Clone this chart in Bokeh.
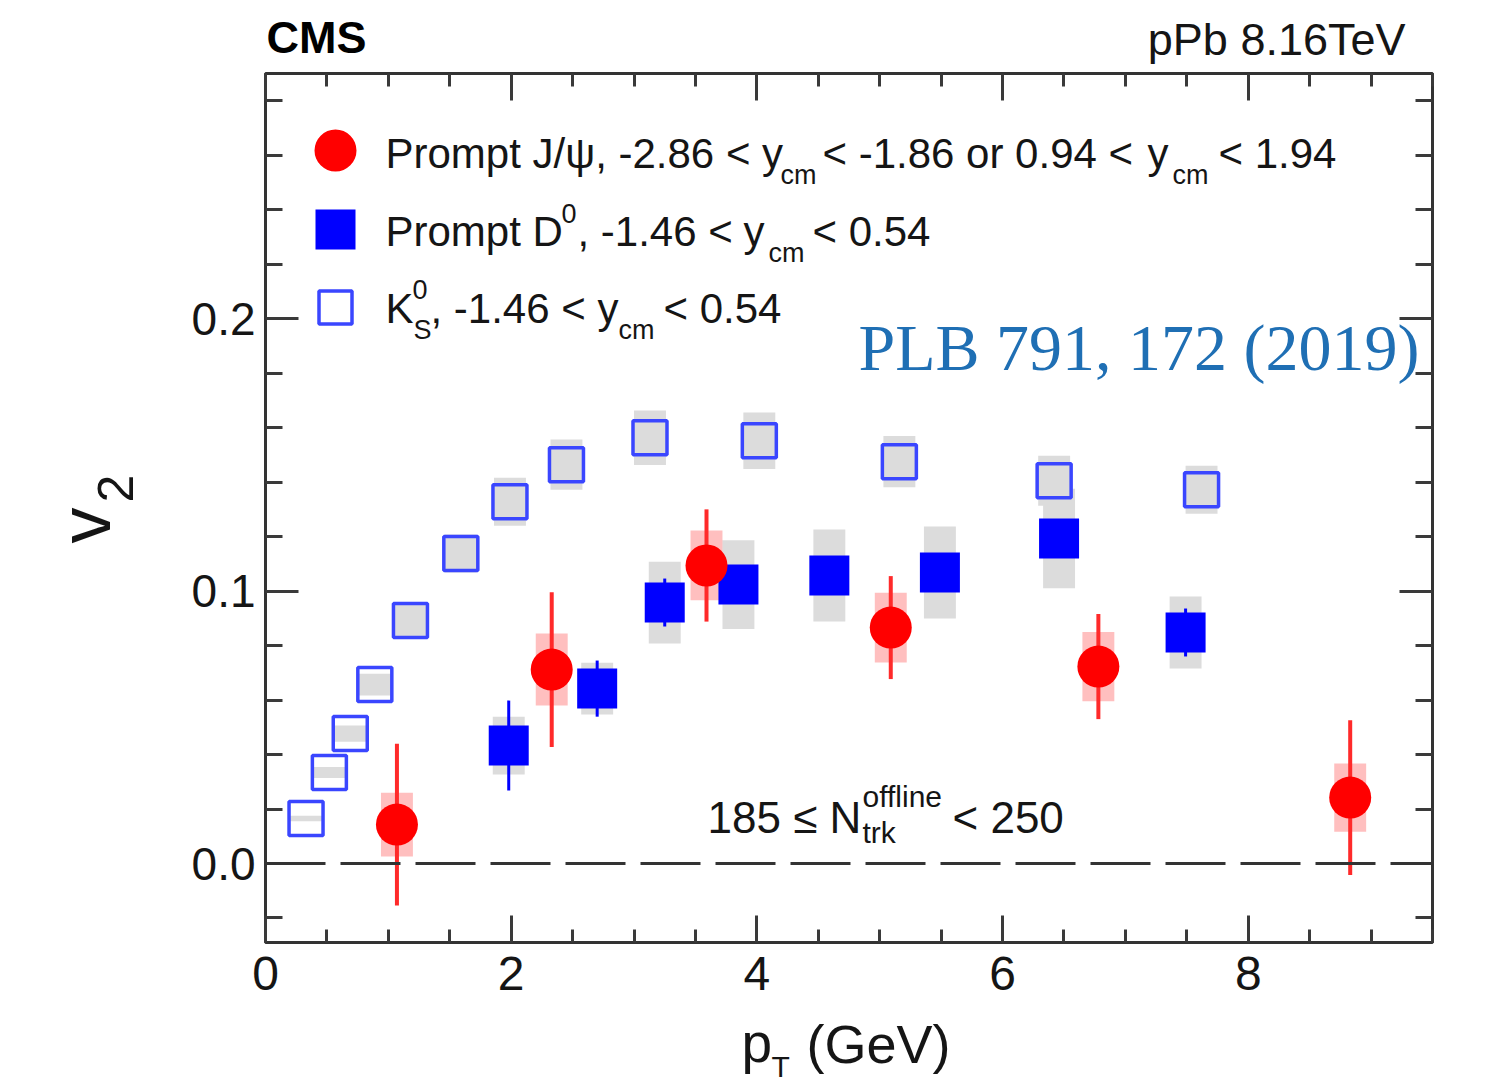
import numpy as np
from math import pi
from bokeh.plotting import figure
from bokeh.layouts import row, column
from bokeh.models import Range1d, LinearAxis, FixedTicker, NumeralTickFormatter, Span, Label
from bokeh.embed import file_html
from bokeh.resources import INLINE

# ---------------- data ----------------
kshort_pt = [0.33, 0.52, 0.69, 0.89, 1.18, 1.59, 1.99, 2.45, 3.13, 4.02, 5.16, 6.42, 7.62]
kshort_v2 = [0.0165, 0.0334, 0.0477, 0.0657, 0.0892, 0.1138, 0.1328, 0.1464, 0.1563, 0.1552, 0.1475, 0.1405, 0.1372]
kshort_syst = [0.001, 0.002, 0.003, 0.004, 0.006, 0.007, 0.0088, 0.0092, 0.0100, 0.0104, 0.0094, 0.0092, 0.0088]

d0_pt = [1.98, 2.70, 3.25, 3.85, 4.59, 5.49, 6.46, 7.49]
d0_v2 = [0.0433, 0.0642, 0.0958, 0.1024, 0.1057, 0.1068, 0.1193, 0.0848]
d0_stat = [0.0165, 0.0103, 0.0088, 0.006, 0.006, 0.006, 0.006, 0.0088]
d0_syst = [0.0106, 0.0095, 0.0150, 0.0163, 0.0169, 0.0169, 0.0183, 0.0132]

jpsi_pt = [1.07, 2.33, 3.59, 5.09, 6.78, 8.83]
jpsi_v2 = [0.0143, 0.0712, 0.1094, 0.0866, 0.0723, 0.0242]
jpsi_stat = [0.0297, 0.0284, 0.0206, 0.0189, 0.0193, 0.0284]
jpsi_syst = [0.0117, 0.0132, 0.0128, 0.0128, 0.0127, 0.0125]

x_major_ticks = [0, 2, 4, 6, 8]
x_minor_ticks = [0.5, 1, 1.5, 2.5, 3, 3.5, 4.5, 5, 5.5, 6.5, 7, 7.5, 8.5, 9, 9.5]
y_major_ticks = [0.0, 0.1, 0.2]
y_minor_ticks = [-0.02, 0.02, 0.04, 0.06, 0.08, 0.12, 0.14, 0.16, 0.18, 0.22, 0.24, 0.26, 0.28]

# ---------------- layout / style ----------------
W, H = 1485, 1083
FRAME_L, FRAME_R, FRAME_T, FRAME_B = 265, 1432, 73, 942
LEFT_W = 150            # strip holding the y title
TOP_H = 65              # strip holding CMS / pPb header
MAIN_TOP_BORDER = 8
MAIN_BOTTOM_BORDER = 70
MAIN_H = MAIN_TOP_BORDER + (FRAME_B - FRAME_T) + MAIN_BOTTOM_BORDER
BOTTOM_H = H - TOP_H - MAIN_H
X_MIN, X_MAX = 0.0, 9.5
Y_MIN, Y_MAX = -0.029, 0.29
FONT = "Liberation Sans"
TXT = "#151515"
AX = "#3a3a3a"
JPSI_COLOR = "#ff0000"
D0_COLOR = "#0000ff"
K0_COLOR = "#3a46ff"
SYST_GRAY = "#dcdcdc"
BOX_HW = 0.13
MID = 0.35   # distance baseline -> middle of the font box, in em


def px2x(px):
    return X_MIN + (px - FRAME_L) * (X_MAX - X_MIN) / (FRAME_R - FRAME_L)


def px2y(py):
    return Y_MIN + (FRAME_B - py) * (Y_MAX - Y_MIN) / (FRAME_B - FRAME_T)


p = figure(width=W - LEFT_W, height=MAIN_H, x_range=Range1d(X_MIN, X_MAX), y_range=Range1d(Y_MIN, Y_MAX),
           output_backend="svg", toolbar_location=None,
           min_border_left=FRAME_L - LEFT_W, min_border_right=W - FRAME_R,
           min_border_top=MAIN_TOP_BORDER, min_border_bottom=MAIN_BOTTOM_BORDER)
p.grid.visible = False
p.outline_line_color = "#333333"
p.outline_line_width = 3
p.background_fill_color = "white"
p.border_fill_color = "white"

bottom_ax = p.below[0]
left_ax = p.left[0]
top_ax = LinearAxis()
right_ax = LinearAxis()
p.add_layout(top_ax, "above")
p.add_layout(right_ax, "right")


def style_axis(ax, is_x, show_labels):
    if is_x:
        ax.ticker = FixedTicker(ticks=x_major_ticks, minor_ticks=x_minor_ticks)
        ax.major_tick_in, ax.minor_tick_in = 27, 13
        ax.major_label_standoff = 14
    else:
        ax.ticker = FixedTicker(ticks=y_major_ticks, minor_ticks=y_minor_ticks)
        ax.major_tick_in, ax.minor_tick_in = 33, 17
        ax.major_label_standoff = 10
        ax.formatter = NumeralTickFormatter(format="0.0")
    ax.major_tick_out = 0
    ax.minor_tick_out = 0
    ax.axis_line_color = None
    ax.major_tick_line_color = AX
    ax.minor_tick_line_color = AX
    ax.major_tick_line_width = 3
    ax.minor_tick_line_width = 3
    ax.major_label_text_font = FONT
    if show_labels:
        ax.major_label_text_color = TXT
        ax.major_label_text_font_size = "48px" if is_x else "46px"
    else:
        ax.major_label_text_color = None
        ax.major_label_text_font_size = "4px"
        ax.major_label_standoff = 0


style_axis(bottom_ax, True, True)
style_axis(left_ax, False, True)
style_axis(top_ax, True, False)
style_axis(right_ax, False, False)

# zero line
p.add_layout(Span(location=0, dimension="width", line_color="#333333", line_width=3, line_dash="60 15"))

# ---------------- data marks ----------------
kpt, kv, ks = np.array(kshort_pt), np.array(kshort_v2), np.array(kshort_syst)
dpt, dv, dst, dsy = np.array(d0_pt), np.array(d0_v2), np.array(d0_stat), np.array(d0_syst)
jpt, jv, jst, jsy = np.array(jpsi_pt), np.array(jpsi_v2), np.array(jpsi_stat), np.array(jpsi_syst)

p.quad(left=kpt - BOX_HW, right=kpt + BOX_HW, bottom=kv - ks, top=kv + ks,
       fill_color=SYST_GRAY, line_color=None)
p.quad(left=dpt - BOX_HW, right=dpt + BOX_HW, bottom=dv - dsy, top=dv + dsy,
       fill_color=SYST_GRAY, line_color=None)
p.quad(left=jpt - BOX_HW, right=jpt + BOX_HW, bottom=jv - jsy, top=jv + jsy,
       fill_color=JPSI_COLOR, fill_alpha=0.25, line_color=None)

p.scatter(kpt, kv, marker="square", size=34, fill_color=None, line_color=K0_COLOR, line_width=3.5)
p.segment(x0=dpt, y0=dv - dst, x1=dpt, y1=dv + dst, line_color=D0_COLOR, line_width=3)
p.scatter(dpt, dv, marker="square", size=40, fill_color=D0_COLOR, line_color=None)
p.segment(x0=jpt, y0=jv - jst, x1=jpt, y1=jv + jst, line_color="#ff2a2a", line_width=4)
p.scatter(jpt, jv, marker="circle", size=42, fill_color=JPSI_COLOR, line_color=None)

# ---------------- legend keys ----------------
p.scatter([px2x(335)], [px2y(150)], marker="circle", size=42, fill_color=JPSI_COLOR, line_color=None)
p.scatter([px2x(335)], [px2y(229)], marker="square", size=40, fill_color=D0_COLOR, line_color=None)
p.scatter([px2x(335)], [px2y(307)], marker="square", size=33, fill_color=None,
          line_color=K0_COLOR, line_width=3.5)


def strip(w, h, xr, yr):
    f = figure(width=w, height=h, x_range=Range1d(*xr), y_range=Range1d(*yr),
               x_axis_type=None, y_axis_type=None, output_backend="svg", toolbar_location=None,
               min_border=0)
    f.outline_line_color = None
    f.background_fill_color = "white"
    f.border_fill_color = "white"
    f.grid.visible = False
    return f


# strips use window-pixel coordinates (y grows downward); the column aligns
# the frames of the top/bottom strips with the frame of the main plot.
left_fig = strip(LEFT_W, H, (0, LEFT_W), (H, 0))
top_fig = strip(W - LEFT_W, TOP_H, (FRAME_L, FRAME_R), (TOP_H, 0))
bottom_fig = strip(W - LEFT_W, BOTTOM_H, (FRAME_L, FRAME_R), (H, H - BOTTOM_H))


def add_text(fig, txt, px, py, size, align="left", bold=False, font=FONT, color=TXT, rotated=False):
    """px, py: start of the text's baseline, in window pixels."""
    if rotated:
        ax_, ay_ = px - MID * size, py
    else:
        ax_, ay_ = px, py - MID * size
    if fig is p:
        ax_, ay_ = px2x(ax_), px2y(ay_)
    fig.add_layout(Label(x=ax_, y=ay_, text=txt, text_font=font,
                         text_font_size=f"{size}px", text_color=color, text_align=align,
                         text_baseline="middle", angle=pi / 2 if rotated else 0.0,
                         text_font_style="bold" if bold else "normal"))


# legend texts
LS, SS = 42, 27
add_text(p, "Prompt J/ψ, -2.86 < y", 385, 168, LS)
add_text(p, "cm", 780, 184, SS)
add_text(p, "< -1.86 or 0.94 <", 822, 168, LS)
add_text(p, "y", 1147, 168, LS)
add_text(p, "cm", 1172, 184, SS)
add_text(p, "< 1.94", 1218, 168, LS)

add_text(p, "Prompt D", 385, 246, LS)
add_text(p, "0", 561, 222, SS)
add_text(p, ", -1.46 <", 577, 246, LS)
add_text(p, "y", 743, 246, LS)
add_text(p, "cm", 768, 262, SS)
add_text(p, "< 0.54", 812, 246, LS)

add_text(p, "K", 385, 323, LS)
add_text(p, "0", 412, 298, SS)
add_text(p, "S", 413, 339, SS)
add_text(p, ", -1.46 < y", 430, 323, LS)
add_text(p, "cm", 618, 339, SS)
add_text(p, "< 0.54", 663, 323, LS)

# multiplicity annotation
add_text(p, "185 ≤ N", 707, 832, 44)
add_text(p, "offline", 862, 806, 30)
add_text(p, "trk", 862, 842, 30)
add_text(p, "< 250", 952, 832, 44)

# reference
add_text(p, "PLB 791, 172 (2019)", 858, 370, 66, font="Liberation Serif", color="#1f6fb4")

# headers
add_text(top_fig, "CMS", 266, 53, 45, bold=True, color="#000000")
add_text(top_fig, "pPb 8.16TeV", 1405, 55, 45, align="right")

# axis titles
add_text(bottom_fig, "p", 741, 1062, 55)
add_text(bottom_fig, "T", 771, 1076, 30)
add_text(bottom_fig, "(GeV)", 806, 1062, 54)
add_text(left_fig, "v", 110, 543, 72, rotated=True)
add_text(left_fig, "2", 132, 502, 50, rotated=True)

layout = row(left_fig, column(top_fig, p, bottom_fig))
open("out.html", "w").write(file_html(layout, INLINE))
